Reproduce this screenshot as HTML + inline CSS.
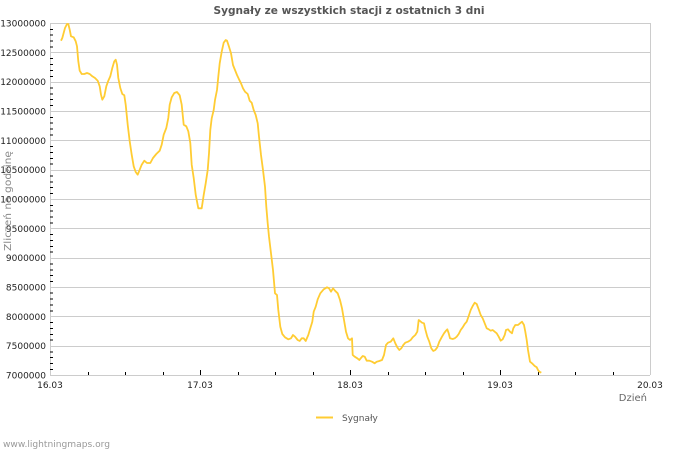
<!DOCTYPE html>
<html><head><meta charset="utf-8"><style>
html,body{margin:0;padding:0;background:#fff;}
svg{display:block;}
text{font-family:"DejaVu Sans","Liberation Sans",sans-serif;}
</style></head><body>
<svg width="700" height="450" viewBox="0 0 700 450" xmlns="http://www.w3.org/2000/svg">
<rect width="700" height="450" fill="#fff"/>
<text x="349" y="14" text-anchor="middle" font-size="10.5" font-weight="bold" fill="#555" textLength="271" lengthAdjust="spacingAndGlyphs">Sygnały ze wszystkich stacji z ostatnich 3 dni</text>
<g stroke="#cccccc" stroke-width="1" shape-rendering="crispEdges">
<line x1="50" y1="23.5" x2="650" y2="23.5"/>
<line x1="50" y1="52.5" x2="650" y2="52.5"/>
<line x1="50" y1="82.5" x2="650" y2="82.5"/>
<line x1="50" y1="111.5" x2="650" y2="111.5"/>
<line x1="50" y1="140.5" x2="650" y2="140.5"/>
<line x1="50" y1="170.5" x2="650" y2="170.5"/>
<line x1="50" y1="199.5" x2="650" y2="199.5"/>
<line x1="50" y1="228.5" x2="650" y2="228.5"/>
<line x1="50" y1="258.5" x2="650" y2="258.5"/>
<line x1="50" y1="287.5" x2="650" y2="287.5"/>
<line x1="50" y1="316.5" x2="650" y2="316.5"/>
<line x1="50" y1="346.5" x2="650" y2="346.5"/>
<line x1="50" y1="375.5" x2="650" y2="375.5"/>
<line x1="50.5" y1="23" x2="50.5" y2="375"/>
<line x1="650.5" y1="23" x2="650.5" y2="375"/>
</g>
<g stroke="#000" stroke-width="1" shape-rendering="crispEdges" id="yt"></g>
<g stroke="#000" stroke-width="1" shape-rendering="crispEdges">
<line x1="200.5" y1="370" x2="200.5" y2="375"/>
<line x1="350.5" y1="370" x2="350.5" y2="375"/>
<line x1="500.5" y1="370" x2="500.5" y2="375"/>
<line x1="88.5" y1="372" x2="88.5" y2="375"/>
<line x1="125.5" y1="372" x2="125.5" y2="375"/>
<line x1="163.5" y1="372" x2="163.5" y2="375"/>
<line x1="238.5" y1="372" x2="238.5" y2="375"/>
<line x1="275.5" y1="372" x2="275.5" y2="375"/>
<line x1="313.5" y1="372" x2="313.5" y2="375"/>
<line x1="388.5" y1="372" x2="388.5" y2="375"/>
<line x1="425.5" y1="372" x2="425.5" y2="375"/>
<line x1="463.5" y1="372" x2="463.5" y2="375"/>
<line x1="538.5" y1="372" x2="538.5" y2="375"/>
<line x1="575.5" y1="372" x2="575.5" y2="375"/>
<line x1="613.5" y1="372" x2="613.5" y2="375"/>
<path d="M50 29.4h3M50 35.2h3M50 41.1h3M50 47h3M50 58.7h3M50 64.5h3M50 70.4h3M50 76.3h3M50 88h3M50 93.9h3M50 99.7h3M50 105.6h3M50 117.3h3M50 123.2h3M50 129.1h3M50 134.9h3M50 146.6h3M50 152.5h3M50 158.4h3M50 164.2h3M50 176h3M50 181.8h3M50 187.7h3M50 193.5h3M50 205.3h3M50 211.1h3M50 217h3M50 222.9h3M50 234.6h3M50 240.5h3M50 246.3h3M50 252.2h3M50 263.9h3M50 269.8h3M50 275.6h3M50 281.5h3M50 293.2h3M50 299.1h3M50 305h3M50 310.8h3M50 322.5h3M50 328.4h3M50 334.3h3M50 340.1h3M50 351.9h3M50 357.7h3M50 363.6h3M50 369.5h3"/>
</g>
<g font-size="9" fill="#222" text-anchor="end">
<text x="46" y="26.5">13000000</text>
<text x="46" y="55.8">12500000</text>
<text x="46" y="85.2">12000000</text>
<text x="46" y="114.5">11500000</text>
<text x="46" y="143.8">11000000</text>
<text x="46" y="173.2">10500000</text>
<text x="46" y="202.5">10000000</text>
<text x="46" y="231.8">9500000</text>
<text x="46" y="261.2">9000000</text>
<text x="46" y="290.5">8500000</text>
<text x="46" y="319.8">8000000</text>
<text x="46" y="349.2">7500000</text>
<text x="46" y="378.5">7000000</text>
</g>
<g font-size="9" fill="#222" text-anchor="middle">
<text x="50" y="388">16.03</text>
<text x="200" y="388">17.03</text>
<text x="350" y="388">18.03</text>
<text x="500" y="388">19.03</text>
<text x="650" y="388">20.03</text>
</g>
<text x="647" y="401" text-anchor="end" font-size="10" fill="#666">Dzień</text>
<text transform="translate(11,201) rotate(-90)" text-anchor="middle" font-size="10" fill="#888" textLength="100" lengthAdjust="spacingAndGlyphs">Zliczeń na godzinę</text>
<polyline fill="none" stroke="#ffcc33" stroke-width="1.8" stroke-linejoin="round" points="61,40.7 62.3,38 65,28 67,24 68.3,24 69.7,29.7 71,36.3 73.7,37.3 75.7,41.3 77,46.3 78.3,61.3 79.7,70.7 81.7,74 84.3,74 87,73 89.7,74 92.3,76.3 95,78 97.7,80.7 99.7,86.3 101,94.7 102.3,99.7 104.3,96.3 106.3,86.3 108.3,80.7 110.3,76.3 112.3,68 114.3,61.3 115.7,59.7 117,64.7 118.3,78 120.3,88 122.3,94 124.3,95.3 125.7,104.7 127.7,124.7 129.7,141.3 131.7,154.7 133.7,166.3 135.7,172 137.7,174.7 139.7,169.7 141.7,164.7 144.3,160.7 147,163 150.3,163 153,158 156.3,154 159.7,150.7 161.7,144.7 163.7,134.7 166.3,128 168.3,118 169.7,104.7 171.7,97.3 174.3,93 177,92 179.7,95.3 181.7,104.7 183.7,124.7 186.3,126.3 188.3,131.3 190.3,143 191.7,164.7 193.7,178 195.7,194.7 198.3,208.3 201.7,208.3 203.7,195 205.7,183.3 207.7,170 209,153.3 210.3,130 211.7,118.3 213.7,110 215,100 217,90 218.3,76.7 219.7,63.3 221.7,51.7 223.7,42.7 225.7,40 227,40.7 229,46.7 231,53.3 233,65 235,70 237,75 239,79.3 241,83.3 243,88.3 245,91.7 247.7,94 249.7,100.7 251.7,102.7 253.7,110 255.7,115 257.7,123.3 259,136.7 261,155 263,170 265,186.7 266.3,206.7 267.7,223.3 269,236.7 271,253.3 273,270 275,293.3 277,295 278.3,310 280.3,326.7 282.3,334 285,337.3 288.3,339.3 291,338.3 293,335 295,336.7 297.7,340 299.7,341 301.7,338.3 303.7,338.3 305.7,341 308.3,335 310.3,328.3 312.3,321.7 313.7,311.7 315.7,306.7 317.7,299.3 320.3,293.3 323.7,289.3 327,287.3 329,288.3 331,291.7 333,288.3 335,290.7 337.7,293.3 340,300 342,308.3 344,320 346,331.7 348,338.3 350,340 352,338.3 352.7,355 354.7,356.7 357.3,358.3 359.3,360 360.7,358.3 362.7,356 364.7,356.7 366.7,360.7 369.3,360.7 372,361.7 374.7,363.3 376.7,361.7 379.3,361 382,360 384,355 386,345 388,342.7 390.7,341.7 393.3,338.3 395.3,343.3 397.3,347.3 399.3,350 401.3,348.3 403.3,345 405.3,342.7 408,341.7 410.7,340 412.7,337.3 415.3,335 417.3,331.7 418.7,320 420,321 422,322.7 424,323.3 425.3,329.3 427.3,336.7 429.3,341.7 431.3,348.3 433.3,351 435.3,350 437.3,347.3 439.3,341.7 442,336.7 444,333.3 446,330.7 447.3,329.3 448.7,333.3 450,338.3 452.7,339 454.7,338.3 456.7,336.7 458.7,334 460.7,330 462.7,327.3 464.7,324 466.7,321.7 468.7,316 470.7,310 472.7,306 474.7,302.7 476.7,304 478.7,309.3 480.7,315 482.7,318.3 484.7,323.3 486.7,328.3 488.7,329.3 490.7,330.7 492.7,330 494.7,331.7 496.7,333.3 498.7,336.7 500.7,340.7 502.7,339.3 504.7,335 506,330 508,329.3 510,331.7 512,333.3 513.3,328.3 515.3,325 518,325 520,323.3 522,321.7 524,325 525.3,331.7 526.7,340 528,350 530,361.7 532,363.3 534.7,366 536.7,367.3 538,370 539.3,371.7 541.3,372.7"/>
<line x1="316" y1="417.5" x2="333" y2="417.5" stroke="#ffcc33" stroke-width="2"/>
<text x="342" y="421" font-size="9" fill="#555">Sygnały</text>
<text x="3" y="447" font-size="9" fill="#999" textLength="107" lengthAdjust="spacingAndGlyphs">www.lightningmaps.org</text>
</svg>
</body></html>
